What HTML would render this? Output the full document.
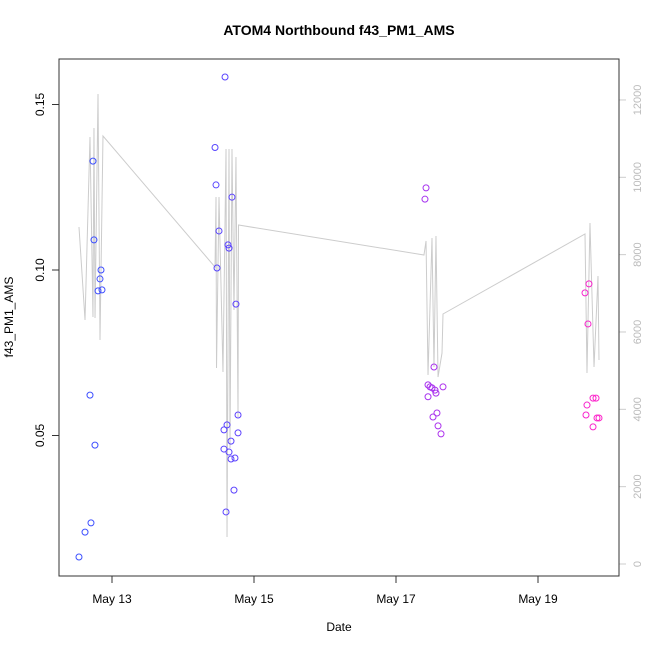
<!DOCTYPE html>
<html><head><meta charset="utf-8"><style>
body{margin:0;background:#fff;}
svg{font-family:"Liberation Sans",sans-serif;}
</style></head><body>
<svg id="chart" width="650" height="650">
<rect width="650" height="650" fill="#fff"/>
<text x="339" y="35" text-anchor="middle" font-size="14" font-weight="bold">ATOM4 Northbound f43_PM1_AMS</text>
<text x="339" y="631" text-anchor="middle" font-size="12">Date</text>
<text transform="translate(13,317) rotate(-90)" text-anchor="middle" font-size="12">f43_PM1_AMS</text>
<g id="lineG"></g><g id="ptsG"></g><g id="axG"></g>
<rect x="59" y="59" width="560" height="517" fill="none" stroke="#333"/>
</svg>
<script>
// days since May 13 00:00
const pmTimes=[-0.465,-0.380,-0.296,-0.310,-0.240,-0.268,-0.254,-0.197,-0.169,-0.155,-0.141,
1.451,1.465,1.479,1.507,1.592,1.577,1.577,1.620,1.606,1.648,1.648,1.634,1.676,1.690,1.676,1.718,1.732,1.746,1.775,1.775,
4.408,4.423,4.451,4.451,4.479,4.507,4.521,4.535,4.549,4.563,4.577,4.592,4.634,4.662,
6.662,6.718,6.704,6.676,6.690,6.775,6.817,6.775,6.831,6.859];
const pmValues=[0.0133,0.0208,0.0236,0.0622,0.0471,0.1329,0.1091,0.0937,0.0973,0.100,0.094,
0.137,0.1257,0.1006,0.1118,0.1583,0.0517,0.0459,0.0532,0.0269,0.045,0.1066,0.1076,0.0483,0.122,0.0429,0.0335,0.0432,0.0897,0.0562,0.0508,
0.1214,0.1248,0.0653,0.0617,0.0647,0.0644,0.0556,0.0707,0.0637,0.0628,0.0568,0.0529,0.0505,0.0647,
0.0931,0.0958,0.0837,0.0562,0.0592,0.0613,0.0613,0.0526,0.0553,0.0553];
const cntTimes=[-0.465,-0.380,-0.310,-0.268,-0.254,-0.239,-0.197,-0.169,-0.127,
1.451,1.465,1.472,1.507,1.563,1.606,1.620,1.648,1.662,1.690,1.718,1.746,1.775,1.782,
4.394,4.423,4.451,4.507,4.535,4.563,4.592,4.648,4.662,
6.662,6.690,6.732,6.789,6.845,6.859];
const cntValues=[8715,6310,11042,6387,11275,6361,12154,5793,11068,
7680,9490,5069,9490,4965,10732,698,10732,3000,10732,6568,10525,3801,8766,
7991,8353,4888,8430,5094,8482,4836,5456,6465,
8534,4939,8818,5094,7448,5275];
const xTicks=[0,2,4,6];
const xTickLabels=["May 13","May 15","May 17","May 19"];
const yTicks=[0.05,0.10,0.15];
const yTickLabels=["0.05","0.10","0.15"];
const y2Ticks=[0,2000,4000,6000,8000,10000,12000];

const NS="http://www.w3.org/2000/svg";
const xS=t=>112+71*t;
const yS=v=>270-(v-0.10)*3310;
const y2S=c=>564-c*0.03867;
function mk(tag,attrs,parent){const e=document.createElementNS(NS,tag);for(const k in attrs)e.setAttribute(k,attrs[k]);parent.appendChild(e);return e;}
const lineG=document.getElementById('lineG'),ptsG=document.getElementById('ptsG'),axG=document.getElementById('axG');
const pl=mk('polyline',{points:cntTimes.map((t,i)=>xS(t)+','+y2S(cntValues[i])).join(' '),fill:'none',stroke:'#cccccc','stroke-width':1},lineG);


const tMin=-0.5,tMax=6.9;
function col(t){const f=Math.max(0,Math.min(1,(t-tMin)/(tMax-tMin)));
 const r=Math.round(60+195*Math.pow(f,1.5)),g=Math.round(80-45*f),b=Math.round(255-55*Math.pow(f,3));return `rgb(${r},${g},${b})`;}
pmTimes.forEach((t,i)=>{const c=mk('circle',{cx:xS(t),cy:yS(pmValues[i]),r:3,fill:'none',stroke:col(t),'stroke-width':1},ptsG);

});
xTicks.forEach((t,i)=>{const x=xS(t);mk('line',{x1:x,x2:x,y1:576,y2:583,stroke:'#333'},axG);
const tx=mk('text',{x:x,y:603,'text-anchor':'middle','font-size':12},axG);tx.textContent=xTickLabels[i];

});
yTicks.forEach((v,i)=>{const y=yS(v);mk('line',{x1:52,x2:59,y1:y,y2:y,stroke:'#333'},axG);
const tx=mk('text',{transform:`translate(44,${y}) rotate(-90)`,'text-anchor':'middle','font-size':12},axG);tx.textContent=yTickLabels[i];

});
y2Ticks.forEach(v=>{const y=y2S(v);mk('line',{x1:619,x2:626,y1:y,y2:y,stroke:'#ccc'},axG);
const tx=mk('text',{transform:`translate(641,${y}) rotate(-90)`,'text-anchor':'middle','font-size':11,fill:'#bbb'},axG);tx.textContent=String(v);

});
</script>
</body></html>
